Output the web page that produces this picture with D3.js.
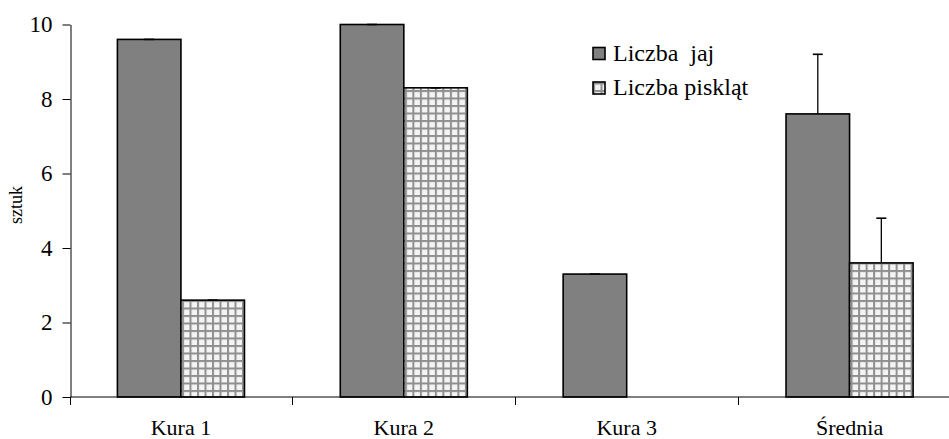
<!DOCTYPE html>
<html>
<head>
<meta charset="utf-8">
<script src="https://cdn.jsdelivr.net/npm/d3@7"></script>
<style>
  html, body { margin: 0; padding: 0; background: #fff; }
  svg { display: block; }
  svg text { font-family: "Liberation Serif", "Times New Roman", serif; fill: #000; }
</style>
</head>
<body>
<svg id="chart" width="949" height="439"></svg>
<script>
// ---- data ----
const categories = ["Kura 1", "Kura 2", "Kura 3", "Średnia"];
const seriesNames = ["Liczba  jaj", "Liczba piskląt"];
const eggs = [9.6, 10, 3.3, 7.6];
const chicks = [2.6, 8.3, 0, 3.6];
const eggsErr = [0, 0, 0, 1.6];
const chicksErr = [0, 0, 0, 1.2];
const yTicks = [0, 2, 4, 6, 8, 10];
const yTitle = "sztuk";

// ---- layout ----
const FONT = "Liberation Serif, Times New Roman, serif";
const plot = { left: 70.5, right: 961, top: 24.5, bottom: 397 };

const svg = d3.select("#chart");

const defs = svg.append("defs");
const pat = defs.append("pattern")
  .attr("id", "grid")
  .attr("patternUnits", "userSpaceOnUse")
  .attr("width", 7.5).attr("height", 7.5)
  .attr("x", 0).attr("y", 0);
pat.append("rect").attr("width", 7.5).attr("height", 7.5).attr("fill", "#f4f4f4");
pat.append("rect").attr("x", 0).attr("y", 0).attr("width", 2).attr("height", 7.5).attr("fill", "#8f8f8f");
pat.append("rect").attr("x", 0).attr("y", 0).attr("width", 7.5).attr("height", 2).attr("fill", "#8f8f8f");

const x0 = d3.scaleBand().domain(categories).range([plot.left - 1, plot.right]).padding(0);
const x1 = d3.scaleBand().domain([0, 1]).range([0, x0.bandwidth()]).paddingInner(0).paddingOuter(0.754);
const y = d3.scaleLinear().domain([0, 10]).range([plot.bottom, plot.top]);

const fills = ["#808080", "url(#grid)"];
const rows = categories.map((c, i) => ({
  cat: c,
  vals: [
    { s: 0, v: eggs[i], e: eggsErr[i] },
    { s: 1, v: chicks[i], e: chicksErr[i] }
  ]
}));

// bars
const g = svg.append("g");
const catG = g.selectAll("g.cat").data(rows).enter().append("g")
  .attr("class", "cat")
  .attr("transform", d => `translate(${x0(d.cat)},0)`);

catG.selectAll("rect").data(d => d.vals.filter(v => v.v > 0)).enter().append("rect")
  .attr("x", d => x1(d.s))
  .attr("y", d => y(d.v))
  .attr("width", x1.bandwidth())
  .attr("height", d => y(0) - y(d.v))
  .attr("fill", d => fills[d.s])
  .attr("stroke", "#000")
  .attr("stroke-width", 1.6);

// error bars (plus direction only)
const errG = catG.selectAll("g.err").data(d => d.vals.filter(v => v.v > 0)).enter().append("g").attr("class", "err");
errG.append("line")
  .attr("x1", d => x1(d.s) + x1.bandwidth() / 2)
  .attr("x2", d => x1(d.s) + x1.bandwidth() / 2)
  .attr("y1", d => y(d.v))
  .attr("y2", d => y(d.v + d.e))
  .attr("stroke", "#000").attr("stroke-width", 1.3);
errG.append("line")
  .attr("x1", d => x1(d.s) + x1.bandwidth() / 2 - 5)
  .attr("x2", d => x1(d.s) + x1.bandwidth() / 2 + 5)
  .attr("y1", d => y(d.v + d.e))
  .attr("y2", d => y(d.v + d.e))
  .attr("stroke", "#000").attr("stroke-width", 1.6);

// y axis
const yAxis = d3.axisLeft(y).tickValues(yTicks).tickFormat(d3.format("d"))
  .tickSize(8).tickSizeOuter(0).tickPadding(10);
const yG = svg.append("g").attr("transform", `translate(${plot.left},0)`).call(yAxis)
  .attr("font-family", FONT).attr("font-size", 23);
yG.selectAll("text").attr("font-family", FONT).style("font-size", "23px");
yG.select(".domain").attr("stroke", "#000");
yG.selectAll(".tick line").attr("stroke", "#000");

// x axis line
svg.append("line")
  .attr("x1", plot.left).attr("x2", plot.right)
  .attr("y1", plot.bottom).attr("y2", plot.bottom)
  .attr("stroke", "#000").attr("stroke-width", 1);

// x boundary ticks
const bounds = categories.map(c => x0(c)).concat([x0.range()[1]]);
svg.selectAll("line.xt").data(bounds).enter().append("line")
  .attr("class", "xt")
  .attr("x1", d => Math.round(d) + 0.5).attr("x2", d => Math.round(d) + 0.5)
  .attr("y1", plot.bottom).attr("y2", plot.bottom + 8)
  .attr("stroke", "#000");

// x labels
svg.selectAll("text.xl").data(categories).enter().append("text")
  .attr("class", "xl")
  .attr("x", d => x0(d) + x0.bandwidth() / 2)
  .attr("y", 435)
  .attr("text-anchor", "middle")
  .attr("font-family", FONT)
  .style("font-size", "22px")
  .text(d => d);

// y title
svg.append("text")
  .attr("transform", "translate(22,205) rotate(-90)")
  .attr("text-anchor", "middle")
  .attr("font-family", FONT)
  .style("font-size", "18px")
  .text(yTitle);

// legend
const legend = svg.append("g").attr("transform", "translate(593,0)");
const legY = [47.5, 82];
seriesNames.forEach((name, i) => {
  legend.append("rect")
    .attr("x", 0).attr("y", legY[i])
    .attr("width", 12).attr("height", 12)
    .attr("fill", fills[i])
    .attr("stroke", "#000").attr("stroke-width", 1.6);
  legend.append("text")
    .attr("x", 20).attr("y", legY[i] + 13)
    .attr("font-family", FONT)
    .style("font-size", "24px")
    .style("white-space", "pre")
    .attr("xml:space", "preserve")
    .text(name);
});
</script>
</body>
</html>
